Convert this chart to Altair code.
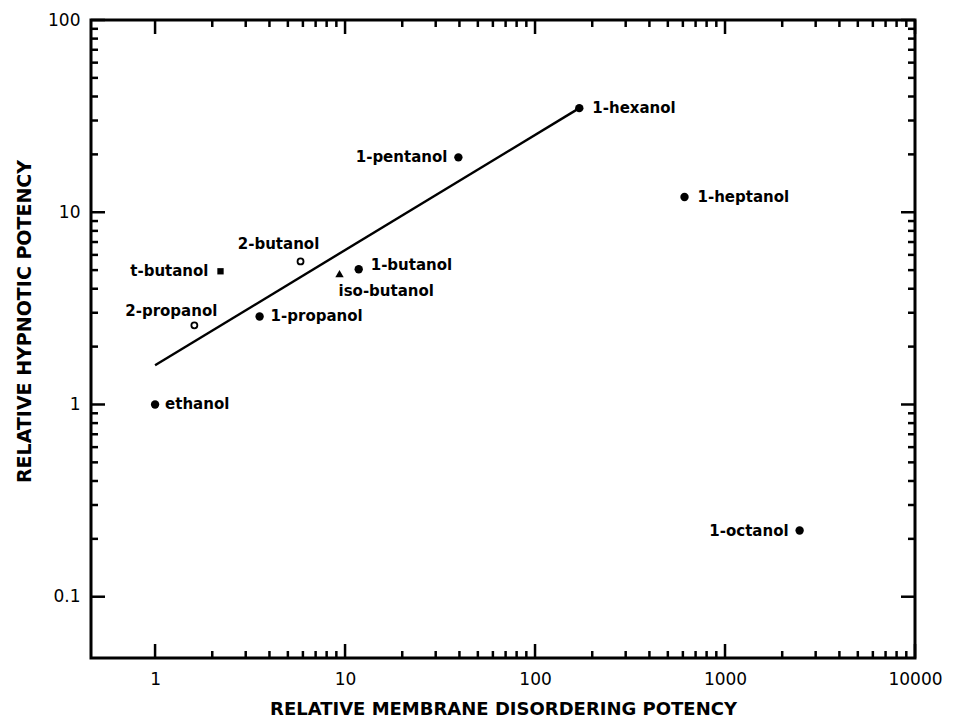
import altair as alt
import pandas as pd

# ---- data ----
names = ["ethanol", "2-propanol", "t-butanol", "2-butanol", "iso-butanol", "1-butanol",
         "1-propanol", "1-pentanol", "1-hexanol", "1-heptanol", "1-octanol"]
disorder = [1.0, 1.61, 2.21, 5.83, 9.35, 11.8, 3.55, 39.5, 171, 612, 2470]
hypnotic = [1.0, 2.58, 4.93, 5.55, 4.8, 5.05, 2.87, 19.3, 34.8, 12.0, 0.221]
kind = ["filled", "open", "square", "open", "triangle", "filled",
        "filled", "filled", "filled", "filled", "filled"]

fit_x = [1.0, 171]
fit_y = [1.6, 34.8]

x_major = [1, 10, 100, 1000, 10000]
x_minor = [2, 3, 4, 5, 6, 7, 8, 9,
           20, 30, 40, 50, 60, 70, 80, 90,
           200, 300, 400, 500, 600, 700, 800, 900,
           2000, 3000, 4000, 5000, 6000, 7000, 8000, 9000]
y_major = [0.1, 1, 10, 100]
y_minor = [0.2, 0.3, 0.4, 0.5, 0.6, 0.7, 0.8, 0.9,
           2, 3, 4, 5, 6, 7, 8, 9,
           20, 30, 40, 50, 60, 70, 80, 90]

df = pd.DataFrame({"name": names, "disorder": disorder, "hypnotic": hypnotic, "kind": kind})
fit = pd.DataFrame({"disorder": fit_x, "hypnotic": fit_y})

W, H = 824, 638
FONT = "DejaVu Sans"

xscale = alt.Scale(type="log", domain=[0.46, 10000], nice=False)
yscale = alt.Scale(type="log", domain=[0.048, 100], nice=False)

xaxis = alt.Axis(values=x_major, format="~g", ticks=False, tickSize=0, domain=False, grid=False,
                 labelFont=FONT, labelFontSize=17, labelColor="black", labelPadding=13,
                 labelFlush=False,
                 title="RELATIVE MEMBRANE DISORDERING POTENCY", titleFont=FONT,
                 titleFontSize=18, titleFontWeight="bold", titleColor="black",
                 titleBaseline="alphabetic", titleY=56)
yaxis = alt.Axis(values=y_major, format="~g", ticks=False, tickSize=0, domain=False, grid=False,
                 labelFont=FONT, labelFontSize=17, labelColor="black", labelPadding=11,
                 labelFlush=False,
                 title="RELATIVE HYPNOTIC POTENCY", titleFont=FONT,
                 titleFontSize=19, titleFontWeight="bold", titleColor="black",
                 titleX=-57, titleY=301)

X = alt.X("disorder:Q", scale=xscale, axis=xaxis)
Y = alt.Y("hypnotic:Q", scale=yscale, axis=yaxis)

base = alt.Chart(df)

filled = base.mark_circle(size=70, color="black", opacity=1).encode(x=X, y=Y).transform_filter(
    alt.FieldEqualPredicate(field="kind", equal="filled"))
open_c = base.mark_point(shape="circle", size=36, filled=False, color="black", strokeWidth=1.8,
                         opacity=1).encode(x=X, y=Y).transform_filter(
    alt.FieldEqualPredicate(field="kind", equal="open"))
square = base.mark_square(size=40, color="black", opacity=1).encode(x=X, y=Y).transform_filter(
    alt.FieldEqualPredicate(field="kind", equal="square"))
tri = base.mark_point(shape="triangle-up", size=70, filled=True, color="black", opacity=1).encode(
    x=X, y=Y).transform_filter(alt.FieldEqualPredicate(field="kind", equal="triangle"))

line = alt.Chart(fit).mark_line(color="black", strokeWidth=2.4).encode(x=X, y=Y)

# label styling (offsets only)
label_style = {
    "ethanol": ("left", 10, 0),
    "2-propanol": ("right", 23, -14),
    "t-butanol": ("right", -12, 0),
    "2-butanol": ("center", -22, -17),
    "iso-butanol": ("left", -1, 17),
    "1-butanol": ("left", 12, -4),
    "1-propanol": ("left", 11, 0),
    "1-pentanol": ("right", -11, 0),
    "1-hexanol": ("left", 13, 0),
    "1-heptanol": ("left", 13, 0),
    "1-octanol": ("right", -11, 0),
}
texts = []
for nm, (al, dx, dy) in label_style.items():
    texts.append(base.mark_text(align=al, baseline="middle", dx=dx, dy=dy, font=FONT,
                                fontSize=15, fontWeight="bold", color="black").encode(
        x=X, y=Y, text="name:N").transform_filter(alt.FieldEqualPredicate(field="name", equal=nm)))

# inward ticks on all four sides
def xticks(vals, length):
    d = pd.DataFrame({"disorder": vals})
    bot = alt.Chart(d).mark_rule(color="black", strokeWidth=2.5).encode(
        x=X, y=alt.value(H), y2=alt.value(H - length))
    top = alt.Chart(d).mark_rule(color="black", strokeWidth=2.5).encode(
        x=X, y=alt.value(0), y2=alt.value(length))
    return [bot, top]

def yticks(vals, length):
    d = pd.DataFrame({"hypnotic": vals})
    left = alt.Chart(d).mark_rule(color="black", strokeWidth=2.5).encode(
        y=Y, x=alt.value(0), x2=alt.value(length))
    right = alt.Chart(d).mark_rule(color="black", strokeWidth=2.5).encode(
        y=Y, x=alt.value(W), x2=alt.value(W - length))
    return [left, right]

tick_layers = xticks(x_major, 14) + xticks(x_minor, 7) + yticks(y_major, 14) + yticks(y_minor, 7)

chart = alt.layer(filled, open_c, square, tri, line, *texts, *tick_layers).properties(
    width=W, height=H,
    autosize=alt.AutoSizeParams(type="none"),
    padding={"left": 83, "top": 12, "right": 33, "bottom": 61},
    background="white",
).configure_view(stroke="black", strokeWidth=3)

chart.save("out.html", embed_options={"renderer": "svg", "actions": False})
